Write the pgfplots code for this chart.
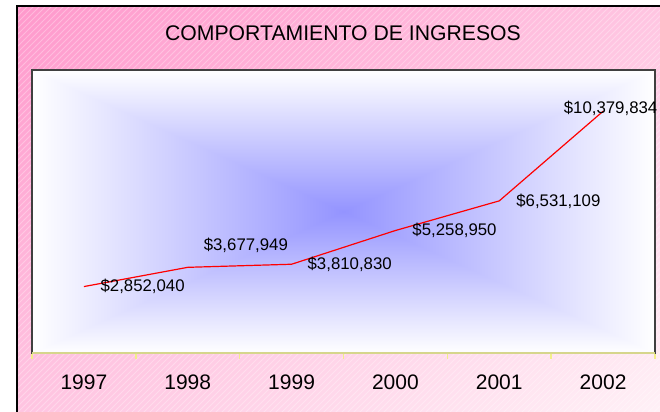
\documentclass[border=0pt]{standalone}
\usepackage{fontspec}
\setmainfont{Liberation Sans}
\usepackage{pgfplots}
\pgfplotsset{compat=1.18}
\usetikzlibrary{patterns}

\definecolor{bordergray}{HTML}{404040}
\definecolor{axisyellow}{HTML}{D6D68C}
\definecolor{tickyellow}{HTML}{F2EE8A}

\pgfdeclarefunctionalshading{pinkbg}{\pgfpoint{-50bp}{-50bp}}{\pgfpoint{50bp}{50bp}}{}{
 25 div neg exch 25 div add 2 add 4 div
 dup 0 lt {pop 0} if dup 1 gt {pop 1} if
 1 exch dup 0.35 mul 0.6 add exch 0.17 mul 0.8 add
}
\pgfdeclarefunctionalshading{bluerect}{\pgfpoint{-50bp}{-50bp}}{\pgfpoint{50bp}{50bp}}{}{
 abs 25 div exch abs 25 div 2 copy lt {exch} if pop
 dup 1 gt {pop 1} if
 0.42 mul 0.58 add dup 1
}

\newcommand{\lbl}{\fontsize{8.4}{10}\selectfont}

\begin{document}
\begin{tikzpicture}
\shade[shading=pinkbg] (8.5pt,-5pt) rectangle (335pt,203pt);
\fill[pattern=north east lines, pattern color=white, opacity=0.3] (8.5pt,-5pt) rectangle (335pt,203pt);
\draw[black, line width=0.9pt] (8.5pt,-5pt) -- (8.5pt,203pt) -- (335pt,203pt);

\node[font=\fontsize{10.6}{12}\selectfont] at (171.5pt,189.5pt) {COMPORTAMIENTO DE INGRESOS};

\begin{axis}[
  at={(16pt,29.5pt)}, anchor=south west,
  scale only axis, width=311.5pt, height=141.5pt,
  xmin=1996.5, xmax=2002.5, ymin=0, ymax=12150000,
  axis background/.style={shade, shading=bluerect},
  xtick={1997,1998,1999,2000,2001,2002},
  xticklabels={1997,1998,1999,2000,2001,2002},
  xtick pos=bottom,
  major tick length=0pt,
  minor xtick={1996.5,1997.5,1998.5,1999.5,2000.5,2001.5,2002.5},
  minor tick length=3pt, tick align=outside,
  minor tick style={draw=tickyellow, line width=0.7pt},
  ytick=\empty,
  axis line style={draw=bordergray, line width=0.8pt},
  xticklabel style={anchor=base, yshift=-18.5pt, font=\fontsize{10.5}{12}\selectfont},
  clip=false,
]
\addplot[red, line width=0.6pt] coordinates {(1997,2852040) (1998,3677949) (1999,3810830) (2000,5258950) (2001,6531109) (2002,10379834)};
\draw[axisyellow, line width=0.9pt] (rel axis cs:0,0) -- (rel axis cs:1,0);
\node[anchor=west, xshift=4.8pt, font=\lbl] at (axis cs:1997,2852040) {\$2,852,040};
\node[anchor=west, xshift=4.5pt, yshift=11pt, font=\lbl] at (axis cs:1998,3677949) {\$3,677,949};
\node[anchor=west, xshift=4.5pt, font=\lbl] at (axis cs:1999,3810830) {\$3,810,830};
\node[anchor=west, xshift=5pt, font=\lbl] at (axis cs:2000,5258950) {\$5,258,950};
\node[anchor=west, xshift=5pt, font=\lbl] at (axis cs:2001,6531109) {\$6,531,109};
\node[anchor=center, xshift=3.75pt, yshift=1.5pt, font=\lbl] at (axis cs:2002,10379834) {\$10,379,834};
\end{axis}
\pgfresetboundingbox
\useasboundingbox (0,0) rectangle (330pt,206pt);
\end{tikzpicture}
\end{document}
